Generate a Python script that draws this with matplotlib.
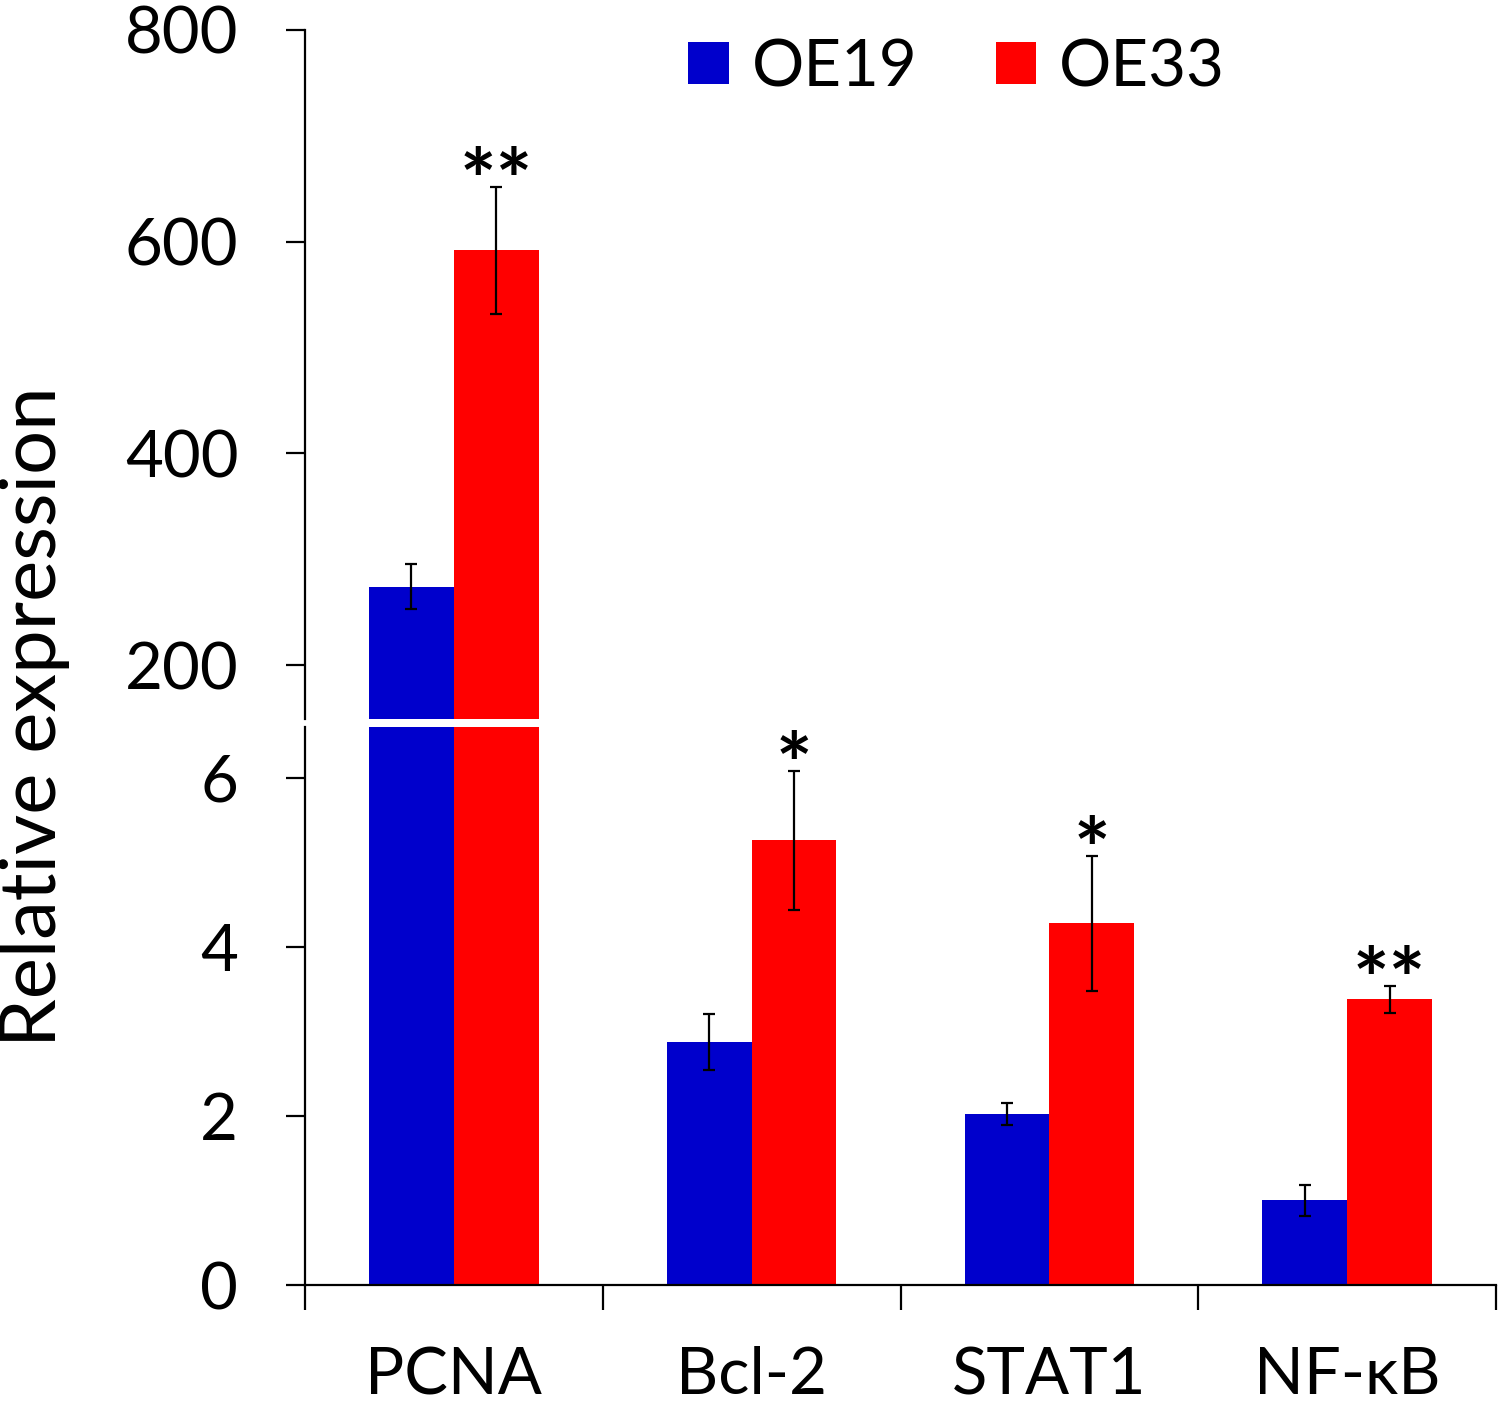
import matplotlib
matplotlib.use("Agg")
import matplotlib.pyplot as plt
import numpy as np

plt.rcParams["font.family"] = ["Lato", "DejaVu Sans"]

genes = ["PCNA", "Bcl-2", "STAT1", "NF-κB"]
oe19 = [274, 2.87, 2.02, 1.0]
oe19_err = [21, 0.33, 0.13, 0.18]
oe33 = [592, 5.26, 4.28, 3.38]
oe33_err = [60, 0.82, 0.80, 0.16]
stars = ["**", "*", "*", "**"]

blue = "#0000CC"
red = "#FF0000"
fs = 47

fig = plt.figure(figsize=(15, 14.1), dpi=100)
W, H = 1500, 1410
left, right = 305 / W, 1496 / W
ax_top = fig.add_axes([left, 1 - 719 / H, right - left, (719 - 30) / H])
ax_bot = fig.add_axes([left, 1 - 1285 / H, right - left, (1285 - 727) / H])

x = np.arange(len(genes))
w = 0.285
for ax in (ax_top, ax_bot):
    ax.bar(x - w / 2, oe19, w, color=blue, label="OE19")
    ax.bar(x + w / 2, oe33, w, color=red, label="OE33")
    ax.errorbar(x - w / 2, oe19, yerr=oe19_err, fmt="none", ecolor="black",
                elinewidth=1.6, capsize=4, capthick=1.6)
    ax.errorbar(x + w / 2, oe33, yerr=oe33_err, fmt="none", ecolor="black",
                elinewidth=1.6, capsize=4, capthick=1.6)
    # asterisks are clipped automatically in the axes where they don't belong
    for xi, v, e, s in zip(x, oe33, oe33_err, stars):
        ax.annotate(s, xy=(xi + w / 2, v + e), xytext=(0, 0),
                    textcoords="offset points", ha="center", va="center",
                    fontsize=62, fontweight="bold")
    ax.set_xlim(-0.5, 3.5)
    for sp in ("top", "right"):
        ax.spines[sp].set_visible(False)
    ax.spines["left"].set_linewidth(1.6)
    ax.spines["bottom"].set_linewidth(1.6)
    ax.tick_params(axis="y", direction="out", length=14, width=1.6,
                   labelsize=fs, pad=34)

ax_top.set_ylim(149, 800)
ax_top.set_yticks([200, 400, 600, 800])
ax_top.spines["bottom"].set_visible(False)
ax_top.set_xticks([])

ax_bot.set_ylim(0, 6.6)
ax_bot.set_yticks([0, 2, 4, 6])
ax_bot.set_xticks(np.arange(-0.5, 4, 1))
ax_bot.set_xticklabels([])
ax_bot.tick_params(axis="x", which="major", direction="out", length=18, width=1.6)
ax_bot.set_xticks(x, minor=True)
ax_bot.set_xticklabels(genes, minor=True)
ax_bot.tick_params(axis="x", which="minor", length=0, labelsize=fs, pad=44)

fig.text(35 / W, 1 - 717 / H, "Relative expression", rotation=90,
         ha="center", va="center", fontsize=56)

ax_top.legend(loc="upper center", bbox_to_anchor=(0.547, 0.988), ncol=2,
              frameon=False, fontsize=fs, handlelength=0.62, handleheight=0.62,
              handletextpad=0.35, columnspacing=1.2, borderpad=0,
              borderaxespad=0)

fig.savefig("out.png", dpi=100)
